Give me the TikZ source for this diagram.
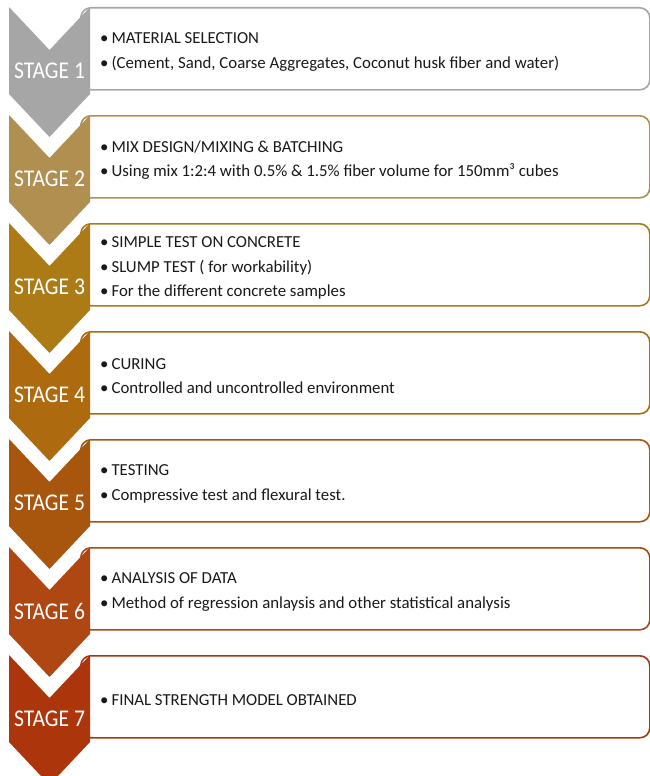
\documentclass[tikz,border=0pt]{standalone}
\usepackage{fontspec}
\setmainfont{Carlito}
\newcommand{\bul}{\textbullet\hspace{3pt}}
\begin{document}
\begin{tikzpicture}[x=1pt,y=-1pt,
  stagebox/.style={draw=#1, line width=1.6pt, fill=white, rounded corners=10pt,
    minimum width=569pt, minimum height=82pt, anchor=north west, inner sep=0pt},
  chev/.style={fill=#1, draw=none},
  stagelabel/.style={text=white, font=\fontsize{24}{24}\selectfont, xscale=0.9, inner sep=0pt},
  itemtext/.style={anchor=west, align=left, inner sep=0pt, text=black!90,
    font=\fontsize{16.8}{24.5}\selectfont}]
\useasboundingbox (0,0) rectangle (650,776);
\definecolor{c1}{HTML}{A6A6A6}
\definecolor{c2}{HTML}{B08F50}
\definecolor{c3}{HTML}{AD7B16}
\definecolor{c4}{HTML}{AE6A0E}
\definecolor{c5}{HTML}{A8560E}
\definecolor{c6}{HTML}{AE4712}
\definecolor{c7}{HTML}{AD350C}
\foreach \i/\t/\txt in {
  1/7/{\bul MATERIAL SELECTION\\\bul (Cement, Sand, Coarse Aggregates, Coconut husk fiber and water)},
  2/115/{\bul MIX DESIGN/MIXING \& BATCHING\\\bul Using mix 1:2:4 with 0.5\% \& 1.5\% fiber volume for 150mm³ cubes},
  3/223/{\bul SIMPLE TEST ON CONCRETE\\\bul SLUMP TEST ( for workability)\\\bul For the different concrete samples},
  4/331/{\bul CURING\\\bul Controlled and uncontrolled environment},
  5/439/{\bul TESTING\\\bul Compressive test and flexural test.},
  6/547/{\bul ANALYSIS OF DATA\\\bul Method of regression anlaysis and other statistical analysis},
  7/655/{\bul FINAL STRENGTH MODEL OBTAINED}}{
  % text panel, its left corners tucked under the chevron
  \node[stagebox=c\i] (box\i) at (80,\t) {};
  % chevron marker
  \fill[chev=c\i] (9,\t) -- (49.5,\t+43) -- (90,\t) -- (90,\t+87)
     -- (49.5,\t+130) -- (9,\t+87) -- cycle;
  \node[stagelabel] (stage\i) at (49.5,\t+64) {STAGE \i};
  \node[itemtext] (items\i) at (100,\t+45) {\txt};
}
\end{tikzpicture}
\end{document}
